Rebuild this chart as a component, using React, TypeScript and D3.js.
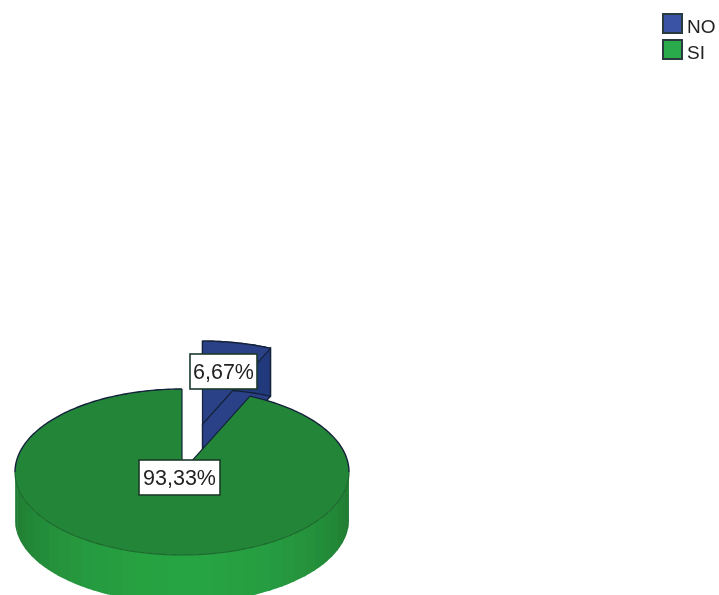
import * as d3 from "d3";

const categories = ["NO", "SI"];
const percents = [6.67, 93.33];
const percentLabels = ["6,67%", "93,33%"];

const WIDTH = 719;
const HEIGHT = 595;
const CX = 182;
const CY = 472;
const RX = 167;
const RY = 83;
const DEPTH = 48;
const EXPLODE = 0.59;

const TOP_COLORS = ["#2a4187", "#238538"];
const SIDE_DARK = ["#243a7c", "#217a33"];
const SIDE_LIGHT = ["#2c4590", "#28a342"];
const LEGEND_COLORS = ["#3a53a4", "#2bab4b"];
const EDGE = "#14233a";
const FRONT_EDGE = "#1b6a2d";

const x = d3.scaleLinear().domain([-1, 1]).range([CX - RX, CX + RX]);
const y = d3.scaleLinear().domain([-1, 1]).range([CY + RY, CY - RY]);

const slices = d3
  .pie<number>()
  .sort(null)
  .value((d) => d)(percents);

type Pt = [number, number];

// point on the unit circle, angle clockwise from the top
function rim(angle: number, r = 1): Pt {
  return [x(Math.sin(angle) * r), y(Math.cos(angle) * r)];
}

function sampleAngles(a0: number, a1: number) {
  const n = Math.max(2, Math.ceil((a1 - a0) / 0.02));
  return d3.range(n + 1).map((i) => a0 + ((a1 - a0) * i) / n);
}

const path = d3.line();

function rimLine(a0: number, a1: number) {
  return path(sampleAngles(a0, a1).map((a) => rim(a))) ?? "";
}

function topFace(a0: number, a1: number) {
  return path([[CX, CY], ...sampleAngles(a0, a1).map((a) => rim(a))]) + "Z";
}

function wallStrip(a0: number, a1: number) {
  const upper = sampleAngles(a0, a1).map((a) => rim(a));
  const lower = upper.map(([px, py]) => [px, py + DEPTH] as Pt).reverse();
  return path([...upper, ...lower]) + "Z";
}

function Slice({ index }: { index: number }) {
  const { startAngle, endAngle } = slices[index];
  const exploded = index === 0;
  const mid = (startAngle + endAngle) / 2;
  const dx = exploded ? rim(mid, EXPLODE)[0] - CX : 0;
  const dy = exploded ? rim(mid, EXPLODE)[1] - CY : 0;

  // the wall only shows on the front half of the rim
  const visStart = exploded ? startAngle : Math.max(startAngle, Math.PI / 2);
  const visEnd = exploded ? endAngle : Math.min(endAngle, (Math.PI * 3) / 2);
  const bands = d3.range(0, 34).map((i) => {
    const a0 = visStart + ((visEnd - visStart) * i) / 34;
    const a1 = visStart + ((visEnd - visStart) * (i + 1.15)) / 34;
    return [a0, Math.min(a1, visEnd)];
  });
  const shade = d3.interpolateRgb(SIDE_DARK[index], SIDE_LIGHT[index]);
  const cutEnd = rim(endAngle);
  const cutFace =
    path([
      [CX, CY],
      cutEnd,
      [cutEnd[0], cutEnd[1] + DEPTH],
      [CX, CY + DEPTH],
    ]) + "Z";

  return (
    <g transform={`translate(${dx},${dy})`}>
      {exploded && (
        <path d={cutFace} fill={TOP_COLORS[index]} stroke={EDGE} strokeWidth={1.4} />
      )}
      {bands.map(([a0, a1], i) => {
        const t = Math.max(0, Math.cos((a0 + a1) / 2 - Math.PI)) ** 1.3;
        return (
          <path
            key={i}
            d={wallStrip(a0, a1)}
            fill={exploded ? SIDE_DARK[index] : shade(t)}
          />
        );
      })}
      {exploded && (
        <path d={wallStrip(visStart, visEnd)} fill="none" stroke={EDGE} strokeWidth={1.4} />
      )}
      <path d={topFace(startAngle, endAngle)} fill={TOP_COLORS[index]} />
      <path
        d={path([rim(startAngle), [CX, CY], rim(endAngle)]) ?? ""}
        fill="none"
        stroke={EDGE}
        strokeWidth={1.2}
      />
      {exploded ? (
        <path d={rimLine(startAngle, endAngle)} fill="none" stroke={EDGE} strokeWidth={1.4} />
      ) : (
        <>
          <path d={rimLine(startAngle, Math.PI / 2)} fill="none" stroke={EDGE} strokeWidth={1.4} />
          <path d={rimLine(Math.PI / 2, (Math.PI * 3) / 2)} fill="none" stroke={FRONT_EDGE} strokeWidth={1.2} />
          <path d={rimLine((Math.PI * 3) / 2, endAngle)} fill="none" stroke={EDGE} strokeWidth={1.4} />
        </>
      )}
    </g>
  );
}

const LABEL_BOXES = [
  { x: 190, y: 354, w: 67, h: 35 },
  { x: 139, y: 460, w: 81, h: 35 },
];

export default function App() {
  return (
    <svg
      width={WIDTH}
      height={HEIGHT}
      viewBox={`0 0 ${WIDTH} ${HEIGHT}`}
      style={{ position: "absolute", left: 0, top: 0, display: "block", background: "#fff" }}
      fontFamily="'Liberation Sans', Arial, sans-serif"
    >
      <defs>
        <filter id="soft" filterUnits="userSpaceOnUse" x="0" y="0" width={WIDTH} height={HEIGHT}>
          <feGaussianBlur stdDeviation="0.7" />
        </filter>
      </defs>
      <g filter="url(#soft)">
        <Slice index={0} />
        <Slice index={1} />

        {percentLabels.map((label, i) => {
          const b = LABEL_BOXES[i];
          return (
            <g key={label}>
              <rect x={b.x} y={b.y} width={b.w} height={b.h} fill="#fff" stroke="#1c3a2a" strokeWidth={1.6} />
              <text
                x={b.x + b.w / 2}
                y={b.y + b.h / 2 + 7.5}
                textAnchor="middle"
                fontSize={21.5}
                fill="#222"
              >
                {label}
              </text>
            </g>
          );
        })}

        {categories.map((name, i) => (
          <g key={name} transform={`translate(663,${14 + i * 26})`}>
            <rect width={19} height={19} fill={LEGEND_COLORS[i]} stroke="#2b3a40" strokeWidth={2} />
            <text x={24} y={19} fontSize={19} fill="#222">
              {name}
            </text>
          </g>
        ))}
      </g>
    </svg>
  );
}
